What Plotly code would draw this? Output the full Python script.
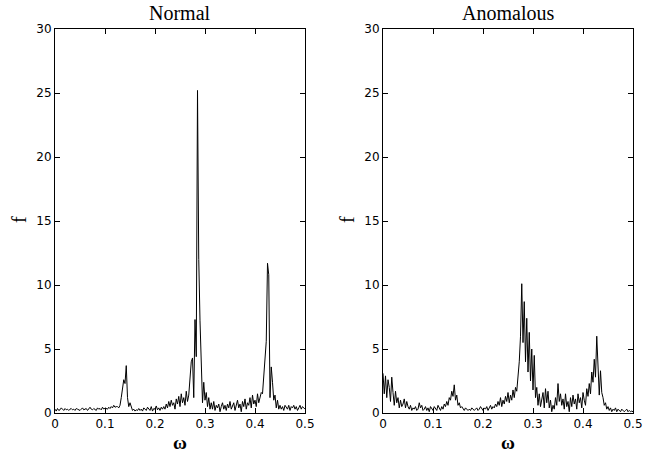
import numpy as np
import plotly.graph_objects as go
from plotly.subplots import make_subplots

# spectrum values, omega step 0.0025 from 0 to 0.5
f_normal = [
    0.3, 0.15, 0.35, 0.2, 0.25, 0.4, 0.3, 0.2, 0.35, 0.25,
    0.3, 0.2, 0.3, 0.35, 0.25, 0.3, 0.2, 0.35, 0.3, 0.25,
    0.2, 0.3, 0.4, 0.25, 0.3, 0.35, 0.2, 0.3, 0.45, 0.3,
    0.25, 0.35, 0.3, 0.2, 0.4, 0.3, 0.35, 0.25, 0.45, 0.3,
    0.4, 0.35, 0.3, 0.45, 0.35, 0.5, 0.4, 0.6, 0.45, 0.5,
    0.5, 0.4, 0.6, 1.2, 2.0, 2.6, 2.3, 3.7, 1.2, 0.5, 0.8, 0.4,
    0.2, 0.3, 0.15, 0.25, 0.2, 0.35, 0.2, 0.3, 0.15, 0.4, 0.25, 0.2, 0.45,
    0.3, 0.2, 0.5, 0.15, 0.35, 0.3, 0.55, 0.25, 0.4, 0.2, 0.45, 0.3, 0.5,
    0.3, 0.7, 0.4, 0.9, 0.5, 1.0, 0.6, 0.8, 0.3, 1.1,
    0.7, 1.3, 0.5, 1.5, 0.8, 1.2, 0.6, 1.7, 0.9, 1.4,
    2.5, 4.0, 4.3, 1.2, 7.3, 4.4, 25.2, 12.0, 7.2, 3.0,
    0.8, 2.4, 1.0, 1.6, 0.5, 1.2, 0.3,
    0.8, 0.3, 0.9, 0.2, 0.6, 0.4, 0.7, 0.1, 0.5, 0.8,
    0.3, 0.6, 0.2, 0.7, 0.4, 0.9, 0.3, 0.5, 0.8, 0.2,
    0.6, 1.0, 0.4, 0.7, 0.1, 0.9, 0.5, 1.1, 0.3, 0.8,
    0.6, 1.2, 0.4, 1.4, 0.7, 1.0, 0.5, 1.5, 0.8, 1.3, 1.6,
    1.5, 3.2, 4.0, 5.6, 11.7, 10.8, 1.2, 3.6, 2.4, 1.0, 1.4, 0.4, 1.0, 0.3,
    0.6, 0.3, 0.5, 0.2, 0.6, 0.4, 0.3, 0.6, 0.2, 0.5,
    0.4, 0.6, 0.3, 0.5, 0.2, 0.4, 0.6, 0.3, 0.5, 0.4, 0.3,
]

f_anomalous = [
    3.1, 1.5, 2.9, 1.2, 2.6, 2.0, 0.9, 2.8, 1.6, 0.6,
    1.7, 0.8, 1.2, 0.4, 1.0, 0.5, 0.7, 1.1, 0.4, 0.9,
    0.5, 0.3, 0.6, 0.2, 0.4, 0.3, 0.5, 0.2, 0.3, 0.8,
    0.4, 0.6, 0.2, 0.3, 0.5, 0.2, 0.4, 0.1, 0.5, 0.3,
    0.2, 0.5, 0.3, 0.2, 0.6, 0.4, 0.2, 0.5, 0.3, 0.7,
    0.5, 0.9, 0.6, 1.2, 1.0, 1.7, 1.3, 2.2, 1.0, 1.4, 0.6, 0.8, 0.4, 0.5,
    0.3, 0.2, 0.4, 0.3, 0.2, 0.3, 0.2, 0.4, 0.3, 0.2, 0.3, 0.4, 0.2, 0.3,
    0.5, 0.3, 0.2, 0.4, 0.3, 0.5, 0.2, 0.4, 0.6, 0.3, 0.5, 0.4, 0.7, 0.5,
    0.9, 0.6, 1.2, 0.5, 1.0, 0.7, 1.3, 0.9, 1.6, 0.8, 1.4, 1.0, 1.8, 1.2, 2.0, 1.7,
    2.8, 4.0, 6.0, 10.1, 5.5, 8.7, 4.0, 7.4, 3.2, 6.3,
    2.5, 5.0, 1.8, 4.5, 1.2, 2.0, 0.6, 1.5, 0.5, 1.1,
    1.6, 0.4, 1.9, 0.8, 1.7, 0.4, 1.0, 0.1, 0.6, 0.3,
    1.2, 0.6, 2.3, 0.9, 1.5, 0.6, 1.1, 0.3, 1.5, 0.5,
    0.9, 0.1, 1.2, 0.5, 1.4, 0.7, 1.1, 0.3, 1.5, 0.8,
    1.2, 0.4, 1.6, 1.0, 0.6, 1.9, 1.3, 2.3,
    1.5, 3.2, 2.4, 4.2, 2.8, 6.0, 3.0, 1.4, 3.3, 1.6, 1.2, 0.6, 0.8, 0.3,
    0.5, 0.2, 0.4, 0.1, 0.3, 0.2, 0.4, 0.1, 0.3, 0.2,
    0.1, 0.3, 0.2, 0.1, 0.2, 0.3, 0.1, 0.2, 0.1, 0.15, 0.1,
]

titles = ["Normal", "Anomalous"]
x_ticks = [0, 0.1, 0.2, 0.3, 0.4, 0.5]
x_tick_text = ["0", "0.1", "0.2", "0.3", "0.4", "0.5"]
y_ticks = [0, 5, 10, 15, 20, 25, 30]

W, H = 656, 455
serif = "Liberation Serif, Times New Roman, serif"
sans = "DejaVu Sans, Arial, sans-serif"


def px_x(p):
    return p / W


def px_y(p):
    return 1 - p / H


fig = make_subplots(rows=1, cols=2)

for col, f in enumerate([f_normal, f_anomalous], start=1):
    omega = np.linspace(0, 0.5, len(f))
    fig.add_trace(go.Scatter(x=omega, y=f, mode="lines",
                             line=dict(color="black", width=1),
                             showlegend=False), row=1, col=col)

# axes boxes measured on the reference (page pixels)
x_doms = [(px_x(55), px_x(305)), (px_x(383), px_x(633))]
y_dom = (px_y(413), px_y(29))

axis_style = dict(showline=True, linecolor="black", linewidth=1, mirror="ticks",
                  ticks="inside", ticklen=5, tickcolor="black", showgrid=False,
                  zeroline=False, automargin=False,
                  tickfont=dict(family=sans, size=12, color="black"))

for i in range(2):
    fig.update_xaxes(domain=x_doms[i], range=[0, 0.5], tickvals=x_ticks,
                     ticktext=x_tick_text, row=1, col=i + 1, **axis_style)
    fig.update_yaxes(domain=y_dom, range=[0, 30], tickvals=y_ticks,
                     row=1, col=i + 1, **axis_style)

annotations = []
centers = [180, 508]
ylab_x = [19, 347]
for i, t in enumerate(titles):
    cx = px_x(centers[i])
    annotations.append(dict(text=t, x=cx, y=px_y(13), xref="paper", yref="paper",
                            xanchor="center", yanchor="middle", showarrow=False,
                            font=dict(family=serif, size=20, color="black")))
    annotations.append(dict(text="<b>ω</b>", x=cx, y=px_y(442), xref="paper", yref="paper",
                            xanchor="center", yanchor="middle", showarrow=False,
                            font=dict(family=serif, size=19, color="black")))
    annotations.append(dict(text="f", x=px_x(ylab_x[i]), y=px_y(220),
                            xref="paper", yref="paper", textangle=-90,
                            xanchor="center", yanchor="middle", showarrow=False,
                            font=dict(family=serif, size=20, color="black")))

fig.update_layout(template="none", width=W, height=H,
                  margin=dict(l=0, r=0, t=0, b=0, autoexpand=False),
                  plot_bgcolor="white", paper_bgcolor="white",
                  annotations=annotations)

# drop the browser's default body margin so the figure fills the window
fig.write_html("out.html", config={"displayModeBar": False},
               post_script="document.body.style.margin = '0';")
